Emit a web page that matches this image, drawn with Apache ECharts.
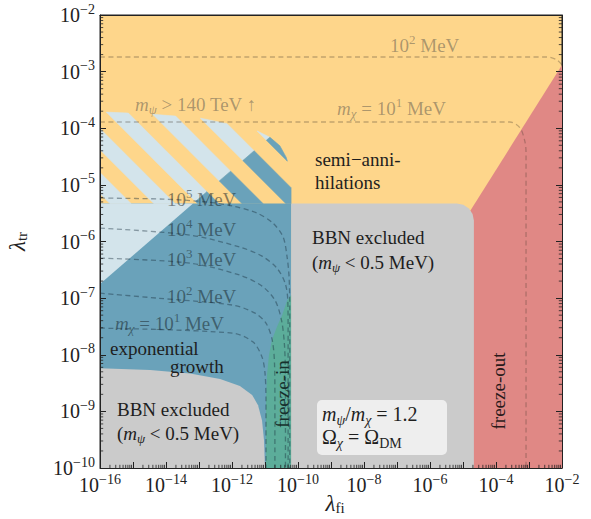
<!DOCTYPE html>
<html><head><meta charset="utf-8">
<script src="https://cdn.jsdelivr.net/npm/echarts@6/dist/echarts.min.js"></script>
<style>html,body{margin:0;padding:0;background:#fff}#c{width:591px;height:519px}</style>
</head><body><div id="c"></div>
<script>
// ---------- data (all in log10 units: X = log10 λ_fi, Y = log10 λ_tr) ----------
const xMajorTicks = [-16,-15,-14,-13,-12,-11,-10,-9,-8,-7,-6,-5,-4,-3,-2];
const xLabelExps = [-16,-14,-12,-10,-8,-6,-4,-2];
const yMajorTicks = [-10,-9,-8,-7,-6,-5,-4,-3,-2];
const yLabelExps = [-10,-9,-8,-7,-6,-5,-4,-3,-2];

const regionFreezeOut = [[-2,-2.883],[-4.77,-5.45],[-4.77,-10],[-2,-10]];
const regionBBNupper = [[-10.21,-10],[-10.21,-5.33],[-5.19,-5.33],[-4.99,-5.353],[-4.82,-5.418],[-4.71,-5.515],[-4.67,-5.63],[-4.67,-10]];
const regionExpGrowth = [[-16,-10],[-16,-5.33],[-10.21,-5.33],[-10.21,-10]];
const regionLight = [[-16,-5.33],[-13.18,-5.33],[-16,-6.75]];
const regionHatch = [[-16,-3.71],[-14.48,-3.75],[-12.97,-3.82],[-12.06,-3.93],[-11.30,-4.03],[-10.85,-4.16],[-10.55,-4.31],[-10.36,-4.51],[-10.24,-4.74],[-10.21,-5.00],[-10.21,-5.33],[-16,-5.33]];
const regionBBNlower = [[-16,-10],[-16,-8.24],[-14.48,-8.27],[-13.27,-8.33],[-12.36,-8.43],[-11.76,-8.55],[-11.39,-8.71],[-11.21,-8.89],[-11.09,-9.16],[-11.03,-9.51],[-11.0,-10]];
const regionFreezeIn = [[-10.21,-6.95],[-10.33,-7.04],[-10.48,-7.30],[-10.64,-7.51],[-10.79,-7.74],[-10.88,-8.01],[-10.94,-8.36],[-10.97,-8.80],[-10.97,-10],[-10.21,-10]];
const lightBlueDiagonal = [[-16,-6.75],[-10.2,-3.83]];
const hatchCenters = [-18.05,-16.72,-15.38,-14.05,-12.72,-11.38,-10.05,-8.72,-7.38]; // X of stripe centre at Y=-5.33

const contour1e5 = [[-16,-5.233],[-14.09,-5.251],[-12.79,-5.30],[-11.97,-5.375],[-11.24,-5.498],[-10.76,-5.675],[-10.45,-5.922],[-10.33,-6.276],[-10.27,-6.629],[-10.25,-7.2],[-10.25,-10]];
const contour1e4 = [[-16,-5.763],[-13.27,-5.887],[-11.76,-6.099],[-11.09,-6.258],[-10.64,-6.470],[-10.39,-6.735],[-10.31,-7.035],[-10.30,-7.565],[-10.30,-10]];
const contour1e3 = [[-16,-6.293],[-13.27,-6.382],[-11.76,-6.594],[-11.09,-6.788],[-10.70,-7.035],[-10.50,-7.389],[-10.41,-7.830],[-10.38,-8.449],[-10.38,-10]];
const contour1e2 = [[-16,-6.912],[-14.27,-7.000],[-11.97,-7.124],[-11.30,-7.265],[-10.97,-7.442],[-10.78,-7.742],[-10.71,-8.184],[-10.70,-8.802],[-10.70,-10]];
const contour1e1 = [[-16,-7.530],[-11.97,-7.618],[-11.36,-7.777],[-11.09,-8.042],[-11.00,-8.325],[-10.97,-8.8],[-10.97,-10]];
const contourTop1e2 = [[-16,-2.742],[-2.45,-2.742],[-2.15,-2.795],[-2.0,-2.883]];
const contourTop1e1 = [[-16,-3.890],[-3.58,-3.890],[-3.27,-3.996],[-3.12,-4.244],[-3.09,-4.438],[-3.09,-10]];

// ---------- styles ----------
const FONT = 'Liberation Serif';
const C = {orange:'#FED68B', red:'#E08885', gray:'#CBCBCB', blue:'#6AA2BA', light:'#D3E4EB', green:'#5CAD9A', box:'#EEEEEE', ink:'#1e1e1e'};
const HATCH_HALF = 0.32, HATCH_DXDY = -1.715, HATCH_Y0 = -5.33;

// ---------- geometry helpers ----------
function clipHalf(poly, f){
  const out=[];
  for(let i=0;i<poly.length;i++){
    const a=poly[i], b=poly[(i+1)%poly.length];
    const fa=f(a), fb=f(b);
    if(fa>=0) out.push(a);
    if((fa>=0)!==(fb>=0)){const t=fa/(fa-fb); out.push([a[0]+t*(b[0]-a[0]), a[1]+t*(b[1]-a[1])]);}
  }
  return out;
}
const dA=lightBlueDiagonal[0], dB=lightBlueDiagonal[1];
const dSlope=(dB[1]-dA[1])/(dB[0]-dA[0]);
const above = p => p[1]-(dA[1]+dSlope*(p[0]-dA[0]));
const hatchLight=[], hatchBlue=[];
hatchCenters.forEach(c=>{
  const uu = p => (p[0] - HATCH_DXDY*(p[1]-HATCH_Y0)) - c;
  let s = clipHalf(regionHatch, p=>HATCH_HALF-uu(p));
  s = clipHalf(s, p=>uu(p)+HATCH_HALF);
  if(s.length<3) return;
  const l = clipHalf(s, above), b = clipHalf(s, p=>-above(p));
  if(l.length>=3) hatchLight.push(l);
  if(b.length>=3) hatchBlue.push(b);
});

function polySeries(name, polys, color, z, stroke){
  return {type:'custom', name, coordinateSystem:'cartesian2d', z, silent:true, clip:true, animation:false,
    data: polys.map(p=>p[0]),
    renderItem:(params, api)=>{
      const poly=polys[params.dataIndex];
      return {type:'polygon', shape:{points: poly.map(p=>api.coord(p))},
        style:{fill:color, stroke: stroke?color:null, lineWidth: stroke?0.6:0}};
    }};
}
function lineSeries(name, data, color){
  return {type:'line', name, data, showSymbol:false, smooth:0.3, z:6, silent:true, animation:false,
    lineStyle:{color, width:1.3, type:[5,3.5]}};
}

// minor ticks (log spaced)
const xMinor=[], yMinor=[];
for(let n=-16;n<-2;n++) for(let k=2;k<=9;k++) xMinor.push(n+Math.log10(k));
for(let n=-10;n<-2;n++) for(let k=2;k<=9;k++) yMinor.push(n+Math.log10(k));
const tickSeries = {type:'custom', name:'minorTicks', coordinateSystem:'cartesian2d', z:12, silent:true, clip:false, animation:false,
  data:[[-16,-10]],
  renderItem:(params, api)=>{
    const cs=params.coordSys; const ch=[]; const L=3.2;
    const st={stroke:'#222', lineWidth:0.8};
    xMinor.forEach(v=>{const p=api.coord([v,-10]); ch.push({type:'line',shape:{x1:p[0],y1:cs.y+cs.height,x2:p[0],y2:cs.y+cs.height-L},style:st});});
    yMinor.forEach(v=>{const p=api.coord([-16,v]);
      ch.push({type:'line',shape:{x1:cs.x,y1:p[1],x2:cs.x+L,y2:p[1]},style:st});
      ch.push({type:'line',shape:{x1:cs.x+cs.width,y1:p[1],x2:cs.x+cs.width-L,y2:p[1]},style:st});});
    return {type:'group', children:ch};
  }};

// ---------- text helpers ----------
function rich(S, color){
  const s=Math.round(S*0.7), off=Math.round(S*0.6), lh=Math.round(S*0.95);
  return {
    r:{fontSize:S,fontFamily:FONT,fill:color,color:color,lineHeight:lh},
    i:{fontSize:S,fontFamily:FONT,fontStyle:'italic',fill:color,color:color,lineHeight:lh},
    sp:{fontSize:s,fontFamily:FONT,fill:color,color:color,padding:[0,0,off,0],lineHeight:lh},
    sb:{fontSize:s,fontFamily:FONT,fill:color,color:color,padding:[off,0,0,0],lineHeight:lh},
    sbi:{fontSize:s,fontFamily:FONT,fontStyle:'italic',fill:color,color:color,padding:[off,0,0,0],lineHeight:lh}
  };
}
function txt(x,y,text,S,color,extra){
  const e={type:'text', x, y, z:100, silent:true,
    style:{text, rich:rich(S,color), fontSize:S, fontFamily:FONT, fill:color, align:'left', verticalAlign:'middle'}};
  if(extra){ if(extra.rotation!=null) e.rotation=extra.rotation; if(extra.align) e.style.align=extra.align; }
  return e;
}
const onOrange='rgba(70,70,70,0.45)', onBlue='rgba(20,30,36,0.52)';
const texts = [
  txt(390,45,'{r|10}{sp|2}{r| MeV}',19,onOrange),
  txt(337,108,'{i|m}{sbi|χ}{r| = 10}{sp|1}{r| MeV}',19,onOrange),
  txt(135,104,'{i|m}{sbi|ψ}{r| > 140 TeV ↑}',19,onOrange),
  txt(167,199,'{r|10}{sp|5}{r| MeV}',19,onBlue),
  txt(167,229,'{r|10}{sp|4}{r| MeV}',19,onBlue),
  txt(167,259,'{r|10}{sp|3}{r| MeV}',19,onBlue),
  txt(167,296,'{r|10}{sp|2}{r| MeV}',19,onBlue),
  txt(115,323,'{i|m}{sbi|χ}{r| = 10}{sp|1}{r| MeV}',19,onBlue),
  txt(315,159,'{r|semi−anni-}',19,C.ink),
  txt(315,182,'{r|hilations}',19,C.ink),
  txt(110,348,'{r|exponential}',19,C.ink),
  txt(170,366,'{r|growth}',19,C.ink),
  txt(117,409,'{r|BBN excluded}',19,C.ink),
  txt(117,433,'{r|(}{i|m}{sbi|ψ}{r| < 0.5 MeV)}',19,C.ink),
  txt(312,237,'{r|BBN excluded}',19,C.ink),
  txt(312,262,'{r|(}{i|m}{sbi|ψ}{r| < 0.5 MeV)}',19,C.ink),
  txt(282,394,'{r|freeze-in}',19,'#17302c',{rotation:Math.PI/2,align:'center'}),
  txt(498,391,'{r|freeze-out}',19,'#2a1a1a',{rotation:Math.PI/2,align:'center'}),
  txt(322,414,'{i|m}{sbi|ψ}{r|/}{i|m}{sbi|χ}{r| = 1.2}',20,C.ink),
  txt(322,437,'{r|Ω}{sbi|χ}{r| = Ω}{sb|DM}',20,C.ink)
];
// x-axis title
const xTitle = {type:'text', x:335, y:503, z:100, silent:true,
  style:{text:'{l|λ}{s|fi}', align:'center', verticalAlign:'middle', fill:'#222', fontSize:23, fontFamily:FONT,
    rich:{l:{fontSize:23,fontFamily:FONT,fontStyle:'italic',fill:'#222',lineHeight:20},
          s:{fontSize:15,fontFamily:FONT,fill:'#222',padding:[9,0,0,0],lineHeight:20}}}};
const box = {type:'rect', z:99, silent:true, shape:{x:317,y:400,width:130,height:55,r:5}, style:{fill:C.box}};

// ---------- chart ----------
const chart = echarts.init(document.getElementById('c'), null, {renderer:'svg'});
const axisRich = {b:{fontSize:20,fontFamily:FONT,color:'#222'}, s:{fontSize:14,fontFamily:FONT,color:'#222',padding:[0,0,12,0]}};
const nameRich = {l:{fontSize:23,fontFamily:FONT,fontStyle:'italic',color:'#222'},s:{fontSize:15,fontFamily:FONT,color:'#222',padding:[9,0,0,0]}};
chart.setOption({
  animation:false,
  backgroundColor:'#fff',
  grid:{left:100,right:29,top:15,bottom:51,containLabel:false,outerBoundsMode:'none',show:true,backgroundColor:C.orange,borderColor:'#222',borderWidth:1},
  xAxis:[{type:'value',min:-16,max:-2,interval:1,z:10,
    axisLine:{lineStyle:{color:'#222',width:1}},
    axisTick:{inside:true,length:6,lineStyle:{color:'#222'}},
    splitLine:{show:false},
    axisLabel:{margin:4,formatter:v=>xLabelExps.includes(v)?'{b|10}{s|−'+(-v)+'}':'',rich:axisRich}
  },{type:'value',position:'top',min:-16,max:-2,z:10,axisLine:{lineStyle:{color:'#222'}},axisTick:{show:false},axisLabel:{show:false},splitLine:{show:false}}],
  yAxis:[{type:'value',min:-10,max:-2,interval:1,z:10,
    axisLine:{show:true,lineStyle:{color:'#222',width:1}},
    axisTick:{show:true,inside:true,length:6,lineStyle:{color:'#222'}},
    splitLine:{show:false},
    axisLabel:{margin:5,formatter:v=>yLabelExps.includes(v)?'{b|10}{s|−'+(-v)+'}':'',rich:axisRich},
    name:'{l|λ}{s|tr}',nameLocation:'middle',nameGap:71,nameRotate:90,nameTextStyle:{rich:nameRich}
  },{type:'value',position:'right',min:-10,max:-2,interval:1,z:10,
    axisLine:{show:true,lineStyle:{color:'#222'}},axisTick:{show:true,inside:true,length:6,lineStyle:{color:'#222'}},
    axisLabel:{show:false},splitLine:{show:false}}],
  series:[
    polySeries('freeze-out',[regionFreezeOut],C.red,2),
    polySeries('BBN (upper)',[regionBBNupper],C.gray,2),
    polySeries('exponential growth',[regionExpGrowth],C.blue,2),
    polySeries('light',[regionLight],C.light,3),
    polySeries('hatch light',hatchLight,C.light,3,true),
    polySeries('hatch blue',hatchBlue,C.blue,3,true),
    polySeries('BBN (lower)',[regionBBNlower],C.gray,4),
    polySeries('freeze-in',[regionFreezeIn],C.green,4),
    lineSeries('1e5',contour1e5,'rgba(25,45,60,0.42)'),
    lineSeries('1e4',contour1e4,'rgba(25,45,60,0.42)'),
    lineSeries('1e3',contour1e3,'rgba(25,45,60,0.42)'),
    lineSeries('1e2',contour1e2,'rgba(25,45,60,0.42)'),
    lineSeries('1e1',contour1e1,'rgba(25,45,60,0.42)'),
    lineSeries('top1e2',contourTop1e2,'rgba(60,50,40,0.3)'),
    lineSeries('top1e1',contourTop1e1,'rgba(60,50,40,0.3)'),
    tickSeries
  ],
  graphic:[box, xTitle].concat(texts)
});
</script></body></html>
